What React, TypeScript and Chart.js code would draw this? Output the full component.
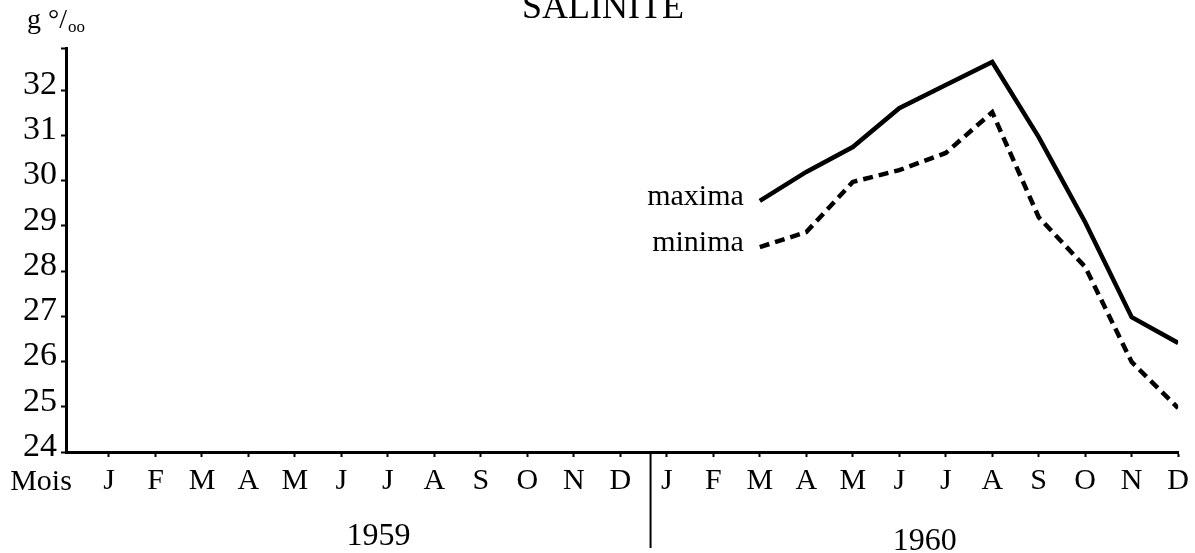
import React, { useEffect, useRef } from "react";
import { Chart, registerables } from "chart.js";

Chart.register(...registerables);

const months = ["J", "F", "M", "A", "M", "J", "J", "A", "S", "O", "N", "D"];
const monthLabels = [...months, ...months];
const yearLabels = ["1959", "1960"];
const yTickValues = [24, 25, 26, 27, 28, 29, 30, 31, 32];
const yAxisTop = 32.93;
// 1960 values, J..D (null = no measurement)
const maxima1960 = [null, null, 29.55, 30.19, 30.74, 31.6, 32.11, 32.62, 30.96, 29.08, 26.98, 26.41];
const minima1960 = [null, null, 28.53, 28.86, 29.97, 30.23, 30.61, 31.51, 29.19, 28.09, 25.99, 24.97];
const seriesNames = ["maxima", "minima"];
const title = "SALINITE";
const unitMain = "g °/";
const unitSub = "oo";
const axisWord = "Mois";

const FONT = '"Liberation Serif", "Times New Roman", serif';

function toPoints(vals: (number | null)[], offset: number) {
  const pts: { x: number; y: number }[] = [];
  vals.forEach((v, i) => {
    if (v !== null) pts.push({ x: offset + i, y: v });
  });
  return pts;
}

const extrasPlugin = {
  id: "extras",
  afterDraw(chart: any) {
    const ctx = chart.ctx;
    const xs = chart.scales.x;
    const ys = chart.scales.y;
    const area = chart.chartArea;
    ctx.save();
    ctx.fillStyle = "#000";
    ctx.strokeStyle = "#000";
    // title
    ctx.font = `36px ${FONT}`;
    ctx.textAlign = "center";
    ctx.textBaseline = "alphabetic";
    ctx.fillText(title, 603, 18);
    // unit
    ctx.textAlign = "left";
    ctx.font = `28px ${FONT}`;
    ctx.fillText(unitMain, 27, 28);
    const w = ctx.measureText(unitMain).width;
    ctx.font = `17px ${FONT}`;
    ctx.fillText(unitSub, 27 + w + 1, 32);
    // "Mois"
    ctx.font = `30px ${FONT}`;
    ctx.textAlign = "center";
    ctx.textBaseline = "alphabetic";
    ctx.fillText(axisWord, 41, 490);
    // years
    ctx.font = `32px ${FONT}`;
    ctx.fillText(yearLabels[0], xs.getPixelForValue(5.8), 545);
    ctx.fillText(yearLabels[1], xs.getPixelForValue(17.55), 550);
    // divider between years
    const dx = xs.getPixelForValue(11.65);
    ctx.lineWidth = 2;
    ctx.beginPath();
    ctx.moveTo(dx, area.bottom);
    ctx.lineTo(dx, 548);
    ctx.stroke();
    // series labels
    ctx.font = `30px ${FONT}`;
    ctx.textAlign = "right";
    ctx.textBaseline = "middle";
    chart.data.datasets.forEach((ds: any, i: number) => {
      const p = ds.data[0];
      ctx.fillText(seriesNames[i], xs.getPixelForValue(p.x) - 16, ys.getPixelForValue(p.y) - 4);
    });
    ctx.restore();
  },
};

export default function App() {
  const ref = useRef<HTMLCanvasElement | null>(null);
  useEffect(() => {
    if (!ref.current) return;
    const chart = new Chart(ref.current, {
      type: "line",
      data: {
        datasets: [
          {
            label: seriesNames[0],
            data: toPoints(maxima1960, 12),
            borderColor: "#000",
            borderWidth: 4.5,
            pointRadius: 0,
            tension: 0,
            borderJoinStyle: "miter",
          },
          {
            label: seriesNames[1],
            data: toPoints(minima1960, 12),
            borderColor: "#000",
            borderWidth: 4.5,
            borderDash: [10, 6],
            pointRadius: 0,
            tension: 0,
            borderJoinStyle: "miter",
          },
        ],
      },
      options: {
        animation: false,
        responsive: false,
        layout: { padding: { left: 0, top: 48, right: 15, bottom: 0 } },
        plugins: { legend: { display: false }, tooltip: { enabled: false }, title: { display: false } },
        scales: {
          x: {
            type: "linear",
            min: -0.925,
            max: 23,
            afterFit: (s: any) => {
              s.height = 101;
            },
            afterBuildTicks: (s: any) => {
              s.ticks = monthLabels.map((_, i) => ({ value: i }));
            },
            grid: { drawOnChartArea: false, tickLength: 5, tickColor: "#000", tickWidth: 2 },
            border: { color: "#000", width: 3 },
            ticks: {
              color: "#000",
              font: { family: FONT, size: 30 },
              padding: 6,
              maxRotation: 0,
              autoSkip: false,
              callback: (v: any) => monthLabels[v] ?? "",
            },
          },
          y: {
            type: "linear",
            min: 24,
            max: yAxisTop,
            afterFit: (s: any) => {
              s.width = 66;
            },
            afterBuildTicks: (s: any) => {
              s.ticks = [...yTickValues, yAxisTop].map((v) => ({ value: v }));
            },
            grid: { drawOnChartArea: false, tickLength: 5, tickColor: "#000", tickWidth: 2 },
            border: { color: "#000", width: 3 },
            ticks: {
              color: "#000",
              font: { family: FONT, size: 34 },
              padding: 4,
              labelOffset: -5,
              autoSkip: false,
              callback: (v: any) => (yTickValues.includes(v) ? String(v) : ""),
            },
          },
        },
      },
      plugins: [extrasPlugin],
    });
    return () => chart.destroy();
  }, []);
  return (
    <div style={{ position: "absolute", left: 0, top: 0, width: 1195, height: 553, background: "#fff" }}>
      <canvas ref={ref} width={1195} height={553} style={{ width: 1195, height: 553, display: "block" }} />
    </div>
  );
}
